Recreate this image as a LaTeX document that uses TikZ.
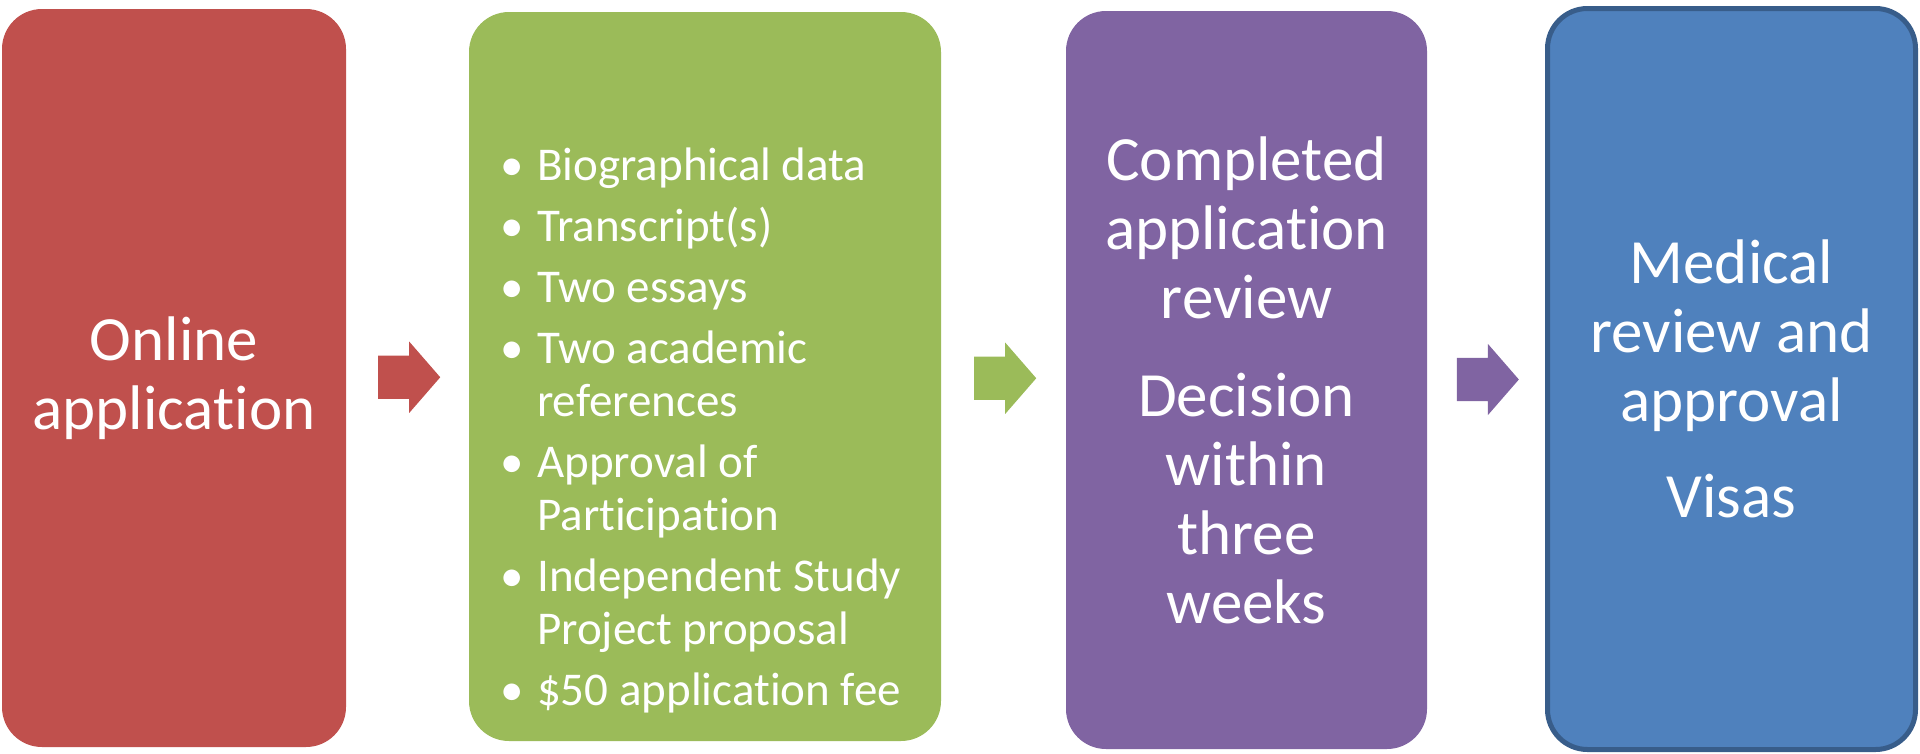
\documentclass[tikz,border=0pt]{standalone}
\usepackage{fontspec}
\setmainfont{Carlito}[Ligatures=NoCommon]
\usepackage{xcolor}
\usepackage{tikz}
\usetikzlibrary{calc,shapes.arrows}
\usetikzlibrary{positioning}

\definecolor{boxred}{HTML}{C0504D}
\definecolor{boxgreen}{HTML}{9BBB59}
\definecolor{boxpurple}{HTML}{8064A2}
\definecolor{boxblue}{HTML}{4F81BD}
\definecolor{boxborder}{HTML}{385D8A}

\newcommand{\bul}{\makebox[50pt]{\textbullet}}

\begin{document}
\begin{tikzpicture}[x=1pt,y=-1pt,
    stepbox/.style={rounded corners=40pt, text=white, align=center, inner sep=0pt,
        font=\fontsize{63}{69}\selectfont},
    blockarrow/.style={single arrow, minimum height=62pt, inner xsep=0pt, inner ysep=21.5pt,
        single arrow head extend=14pt, single arrow tip angle=98, anchor=tip, xshift=33pt}]
    \useasboundingbox (0,0) rectangle (1920,753);

    \node[stepbox, fill=boxred, minimum width=344pt, minimum height=738pt] at (174,378) (online) {Online\\application};
    \node[stepbox, fill=boxgreen, minimum width=472pt, minimum height=729pt] at (705,376.5) (docs) {};
    \node[stepbox, fill=boxpurple, minimum width=361pt, minimum height=738pt] at (1246.5,380) (review)
        {Completed\\application\\review\\[29pt]Decision\\within\\three\\weeks};
    \node[stepbox, fill=boxblue, draw=boxborder, line width=5pt, minimum width=368pt, minimum height=741pt] at (1731.5,379) (medical)
        {Medical\\review and\\approval\\[27pt]Visas};

    \node[anchor=north west, inner sep=0pt, text=white, font=\fontsize{47}{53}\selectfont] at (487,143) (doclist) {%
        \begin{tabular}{@{}l@{}l@{}}
            \bul & Biographical data\\[8pt]
            \bul & Transcript(s)\\[8pt]
            \bul & Two essays\\[8pt]
            \bul & Two academic\\
                 & references\\[8pt]
            \bul & Approval of\\
                 & Participation\\[8pt]
            \bul & Independent Study\\
                 & Project proposal\\[8pt]
            \bul & \$50 application fee
        \end{tabular}};

    \node[blockarrow, fill=boxred] at ($(online.east)!0.5!(docs.west)$) (arr1) {};
    \node[blockarrow, fill=boxgreen] at ($(docs.east)!0.5!(review.west)$) (arr2) {};
    \node[blockarrow, fill=boxpurple] at ($(review.east)!0.5!(medical.west)$) (arr3) {};
\end{tikzpicture}
\end{document}
